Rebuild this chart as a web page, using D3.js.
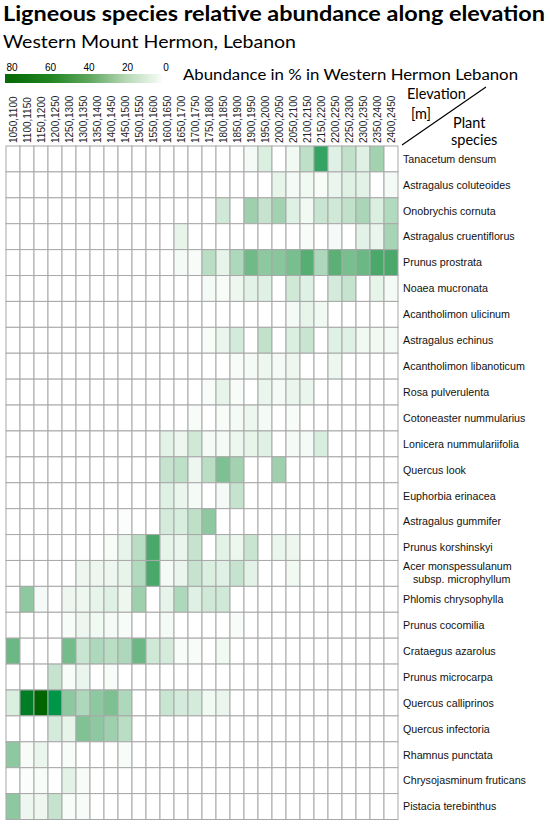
<!DOCTYPE html>
<html>
<head>
<meta charset="utf-8">
<script src="https://cdn.jsdelivr.net/npm/d3@7"></script>
<style>
  body { margin: 0; background: #fff; }
  svg { display: block; }
</style>
</head>
<body>
<svg width="550" height="826"></svg>
<script>
// elevation bands [m]
const elevations = [
  "1050,1100", "1100,1150", "1150,1200", "1200,1250", "1250,1300", "1300,1350", "1350,1400",
  "1400,1450", "1450,1500", "1500,1550", "1550,1600", "1600,1650", "1650,1700", "1700,1750",
  "1750,1800", "1800,1850", "1850,1900", "1900,1950", "1950,2000", "2000,2050", "2050,2100",
  "2100,2150", "2150,2200", "2200,2250", "2250,2300", "2300,2350", "2350,2400", "2400,2450"
];

const species = [
  "Tanacetum densum", "Astragalus coluteoides", "Onobrychis cornuta", "Astragalus cruentiflorus",
  "Prunus prostrata", "Noaea mucronata", "Acantholimon ulicinum", "Astragalus echinus",
  "Acantholimon libanoticum", "Rosa pulverulenta", "Cotoneaster nummularius",
  "Lonicera nummulariifolia", "Quercus look", "Euphorbia erinacea", "Astragalus gummifer",
  "Prunus korshinskyi", "Acer monspessulanum|subsp. microphyllum", "Phlomis chrysophylla",
  "Prunus cocomilia", "Crataegus azarolus", "Prunus microcarpa", "Quercus calliprinos",
  "Quercus infectoria", "Rhamnus punctata", "Chrysojasminum fruticans", "Pistacia terebinthus"
];

// abundance in %, one row per species, one value per elevation band
const abundance = [
  [0,0,0,0,0,0,0,0,0,0, 0,0,0,0,0,0,0,3,10,0, 4,18,50,9,17,9,25,0],
  [0,0,0,0,0,0,0,0,0,0, 0,0,0,0,0,0,0,0,0,7, 3,4,2,6,9,8,0,3],
  [0,0,0,0,0,0,0,0,0,0, 0,0,0,0,0,13,0,26,16,25, 9,4,15,13,17,23,10,21],
  [0,0,0,0,0,0,0,0,0,0, 0,0,7,0,0,0,0,0,0,0, 0,2,0,3,0,8,6,24],
  [0,0,0,0,0,0,0,0,0,0, 0,0,3,2,19,7,22,37,30,31, 35,43,22,42,35,38,46,46],
  [0,0,0,0,0,0,0,0,0,0, 0,0,0,0,3,2,5,8,9,0, 13,9,0,12,16,0,7,3],
  [0,0,0,0,0,0,0,0,0,0, 0,0,0,0,0,0,0,0,0,0, 3,7,4,0,0,0,0,0],
  [0,0,0,0,0,0,0,0,0,0, 0,0,0,0,2,6,12,0,17,0, 10,15,0,9,9,4,4,3],
  [0,0,0,0,0,0,0,0,0,0, 0,0,0,0,0,0,2,3,5,3, 5,0,0,5,0,0,0,0],
  [0,0,0,0,0,0,0,0,0,0, 0,0,0,0,2,7,2,0,6,3, 6,6,0,0,0,0,0,0],
  [0,0,0,0,0,0,0,0,0,0, 0,0,0,2,0,2,3,5,3,0, 2,0,0,0,0,0,0,0],
  [0,0,0,0,0,0,0,0,0,0, 0,8,5,13,3,3,5,7,9,0, 3,3,11,0,0,0,0,0],
  [0,0,0,0,0,0,0,0,0,0, 0,16,18,5,19,34,25,0,0,26, 0,0,0,0,0,0,0,0],
  [0,0,0,0,0,0,0,0,0,0, 0,9,6,3,0,3,16,0,0,0, 0,0,0,0,0,0,0,0],
  [0,0,0,0,0,0,0,0,1,0, 0,12,11,18,30,0,0,0,0,0, 0,0,0,0,0,0,0,0],
  [0,0,0,0,0,0,0,2,7,19, 46,7,6,16,0,8,5,15,0,6, 5,0,0,0,0,0,0,0],
  [0,0,0,0,0,5,5,5,7,21, 46,3,6,16,10,9,16,8,0,0, 4,0,0,0,0,0,0,0],
  [0,30,3,0,5,5,7,9,5,26, 0,7,22,9,13,13,0,0,0,0, 0,0,0,0,0,0,0,0],
  [0,0,0,0,2,5,4,3,2,0, 0,3,0,0,0,0,2,0,0,0, 0,0,0,0,0,0,0,0],
  [38,0,0,0,36,15,22,19,22,38, 13,12,2,2,0,4,0,0,0,0, 0,0,0,0,0,0,0,0],
  [0,0,0,16,2,6,0,2,0,0, 0,0,0,0,0,0,0,0,0,0, 0,0,0,0,0,0,0,0],
  [10,70,80,60,30,22,30,34,22,0, 0,15,12,12,4,6,0,0,0,0, 0,0,0,0,0,0,0,0],
  [0,0,0,12,7,33,30,26,19,0, 0,0,0,0,0,0,0,0,0,0, 0,0,0,0,0,0,0,0],
  [30,2,6,0,2,0,0,0,2,0, 0,0,0,0,0,0,0,0,0,0, 0,0,0,0,0,0,0,0],
  [0,1,2,0,8,2,0,0,0,0, 0,0,0,0,0,0,0,0,0,0, 0,0,0,0,0,0,0,0],
  [30,5,5,16,2,2,0,0,0,0, 0,0,0,0,0,0,0,0,0,0, 0,0,0,0,0,0,0,0]
];

const legendTicks = [80, 60, 40, 20, 0];

const cells = [];
abundance.forEach((row, i) =>
  row.forEach((value, j) => cells.push({ species: species[i], elevation: elevations[j], value }))
);

const svg = d3.select("svg");
const sans = "'Liberation Sans', Arial, sans-serif";
const head = "Lato, 'Open Sans', sans-serif";

const scaleX = d3.scaleBand(elevations, [6, 398]);
const scaleY = d3.scaleBand(species, [146, 819.5]);

const color = d3.scaleLinear()
  .domain([0, 10, 25, 45, 60, 80])
  .range(["#ffffff", "#dbefe1", "#a3d2b1", "#4faa6c", "#00964a", "#006400"]);

const legendColor = d3.scaleLinear()
  .domain([0, 20, 40, 60, 80])
  .range(["#ffffff", "#b8dab8", "#5ea65e", "#228522", "#086b0a"]);

// titles
svg.append("text")
  .attr("x", 3).attr("y", 21)
  .attr("font-family", head).attr("font-weight", "bold").attr("font-size", 20.5)
  .attr("textLength", 542).attr("lengthAdjust", "spacingAndGlyphs")
  .text("Ligneous species relative abundance along elevation");

svg.append("text")
  .attr("x", 3).attr("y", 48)
  .attr("font-family", head).attr("font-size", 17)
  .attr("textLength", 293).attr("lengthAdjust", "spacingAndGlyphs")
  .text("Western Mount Hermon, Lebanon");

// legend
const legendX = d3.scaleLinear([80, 0], [12, 166]);
const grad = svg.append("defs").append("linearGradient")
  .attr("id", "legend-grad")
  .attr("gradientUnits", "userSpaceOnUse")
  .attr("x1", 5).attr("x2", 163).attr("y1", 0).attr("y2", 0);
grad.selectAll("stop")
  .data(d3.range(80, -1, -5))
  .join("stop")
  .attr("offset", (d) => Math.max(0, Math.min(1, (legendX(d) - 5) / 158)))
  .attr("stop-color", (d) => legendColor(d));

svg.append("rect")
  .attr("x", 5).attr("y", 74).attr("width", 158).attr("height", 9)
  .attr("fill", "url(#legend-grad)");

svg.selectAll(".legend-tick")
  .data(legendTicks)
  .join("text")
  .attr("class", "legend-tick")
  .attr("x", (d) => legendX(d)).attr("y", 71)
  .attr("text-anchor", "middle")
  .attr("font-family", sans).attr("font-size", 10)
  .text((d) => d);

svg.append("text")
  .attr("x", 183).attr("y", 80)
  .attr("font-family", head).attr("font-size", 14.5)
  .attr("textLength", 335).attr("lengthAdjust", "spacingAndGlyphs")
  .text("Abundance in % in Western Hermon Lebanon");

// column labels
svg.selectAll(".col-label")
  .data(elevations)
  .join("text")
  .attr("class", "col-label")
  .attr("transform", (d) => `translate(${scaleX(d) + scaleX.bandwidth() / 2 + 3.6},143) rotate(-90)`)
  .attr("font-family", sans).attr("font-size", 10).attr("fill", "#222")
  .text((d) => d);

// corner header
const corner = svg.append("g").attr("font-family", head).attr("font-size", 14.5);
corner.append("text").attr("x", 407).attr("y", 99).text("Elevation");
corner.append("text").attr("x", 411).attr("y", 119).text("[m]");
corner.append("text").attr("x", 453).attr("y", 128).text("Plant");
corner.append("text").attr("x", 451).attr("y", 145).text("species");
corner.append("line")
  .attr("x1", 402).attr("y1", 145).attr("x2", 486).attr("y2", 87)
  .attr("stroke", "#000").attr("stroke-width", 1.2);

// heatmap cells
svg.append("g")
  .selectAll(".cell")
  .data(cells)
  .join("rect")
  .attr("class", "cell")
  .attr("x", (d) => scaleX(d.elevation))
  .attr("y", (d) => scaleY(d.species))
  .attr("width", scaleX.bandwidth())
  .attr("height", scaleY.bandwidth())
  .attr("fill", (d) => color(d.value))
  .attr("stroke", "#a8a8a8")
  .attr("stroke-width", 1);

// row labels
const rowLabels = svg.append("g")
  .attr("font-family", sans).attr("font-size", 10.7).attr("fill", "#111");

rowLabels.selectAll("text")
  .data(species)
  .join("text")
  .each(function (d) {
    const parts = d.split("|");
    const yc = scaleY(d) + scaleY.bandwidth() / 2;
    const t = d3.select(this);
    if (parts.length === 1) {
      t.attr("x", 403).attr("y", yc + 3.8).text(d);
    } else {
      t.append("tspan").attr("x", 403).attr("y", yc - 3).text(parts[0]);
      t.append("tspan").attr("x", 413).attr("y", yc + 10).text(parts[1]);
    }
  });
</script>
</body>
</html>
